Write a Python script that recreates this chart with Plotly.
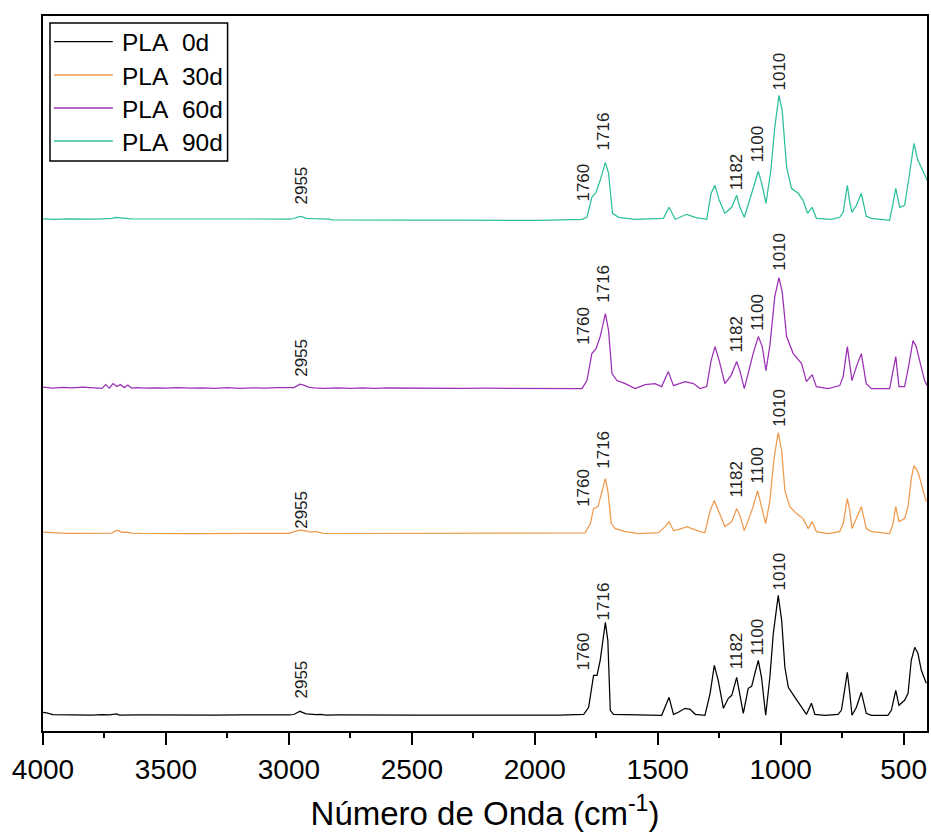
import plotly.graph_objects as go

# ---------------- data ----------------
series_names = ["PLA 0d", "PLA 30d", "PLA 60d", "PLA 90d"]
series_colors = ["#000000", "#EE9A4D", "#9B2FB5", "#2CBF9C"]
offsets = [15.7, 197.4, 342.4, 510.7]   # vertical stacking offsets (a.u.)

wn_0d = [4000, 3985, 3960, 3900, 3850, 3800, 3760, 3745, 3730, 3700, 3690, 3600, 3500, 3400, 3300,
         3200, 3100, 3000, 2980, 2965, 2955, 2945, 2930, 2915, 2890, 2870, 2850, 2800, 2700, 2600,
         2500, 2400, 2300, 2200, 2100, 2000, 1984, 1900, 1801, 1781, 1761, 1747, 1734, 1713, 1703,
         1693, 1680, 1484, 1470, 1454, 1436, 1416, 1389, 1368, 1348, 1308, 1287, 1270, 1254, 1233,
         1213, 1199, 1179, 1166, 1152, 1132, 1118, 1105, 1091, 1078, 1061, 1044, 1030, 1010, 996,
         983, 969, 942, 915, 895, 875, 861, 821, 767, 753, 740, 729, 719, 710, 692, 672, 652, 631,
         564, 550, 532, 519, 496, 482, 469, 455, 442, 428, 408]
ab_0d = [3, 2.5, 0.6, 0.3, 0.8, 0.2, 0.6, 0.2, 0.5, 1.3, 0.2, 0.5, 0.2, 0.6, 0.1,
         0.5, 0.2, 0.5, 0.8, 2.5, 4, 3, 1.5, 1.2, 0.6, 1.0, 0.3, 0.5, 0.2, 0.5,
         0.2, 0.3, 0.1, 0.1, 0.1, 0.1, 0.1, 0.2, 1, 8, 40, 40, 55, 93, 75,
         5, 1, 0, 8, 18, 1, 3, 7, 6, 1, 0, 22, 50, 35, 7,
         17, 20, 38, 22, 2, 27, 29, 42, 55, 38, 0, 38, 82, 120, 95,
         48, 28, 18, 8, 1, 12, 1, 0, 1, 5, 28, 43, 22, 0, 8, 23, 2, 0,
         0, 5, 25, 10, 15, 22, 55, 68, 62, 45, 32]

wn_30d = [4000, 3950, 3900, 3850, 3760, 3720, 3705, 3695, 3680, 3660, 3640, 3600, 3400, 3200, 3000,
          2985, 2970, 2955, 2940, 2925, 2910, 2895, 2880, 2860, 2800, 2600, 2400, 2200, 2000, 1984,
          1795, 1774, 1761, 1743, 1727, 1713, 1703, 1689, 1673, 1632, 1578, 1497, 1470, 1454, 1436,
          1416, 1382, 1362, 1328, 1308, 1287, 1270, 1254, 1227, 1199, 1179, 1166, 1148, 1125, 1112,
          1094, 1080, 1061, 1044, 1026, 1010, 996, 983, 963, 936, 909, 888, 872, 855, 807, 760,
          746, 729, 719, 710, 692, 672, 652, 631, 557, 543, 532, 519, 496, 482, 469, 458, 442, 428,
          408]
ab_30d = [1.5, 0.5, 0.2, 0.3, 0.2, 0.5, 2.8, 3.2, 1.2, 1.5, 0.5, 0.2, 0.1, 0.1, 0.3,
          1.5, 2.5, 3.5, 3, 2.2, 1.5, 2.2, 1.2, 0.3, 0.1, 0.1, 0.1, 0.1, 0.1, 0,
          0.7, 10, 25, 27, 43, 55, 43, 10, 5, 2, 0, 1, 7, 12, 3,
          4, 7, 5, 2, 1, 23, 33, 23, 7, 12, 25, 18, 3, 18, 27,
          43, 30, 10, 33, 77, 101, 83, 43, 27, 20, 15, 5, 12, 2, 0, 2,
          10, 35, 23, 5, 15, 27, 5, 2, 0, 10, 27, 12, 15, 27, 55, 68, 62, 50,
          32]

wn_60d = [4000, 3960, 3920, 3880, 3840, 3800, 3780, 3760, 3745, 3730, 3715, 3700, 3685, 3670, 3655,
          3640, 3620, 3580, 3540, 3500, 3450, 3400, 3350, 3300, 3250, 3200, 3150, 3100, 3050, 3000,
          2980, 2965, 2955, 2940, 2920, 2900, 2860, 2800, 2750, 2700, 2650, 2600, 2500, 2400, 2300,
          2200, 2100, 2000, 1984, 1808, 1788, 1768, 1751, 1734, 1713, 1700, 1686, 1666, 1632, 1592,
          1551, 1511, 1484, 1457, 1436, 1389, 1355, 1328, 1301, 1283, 1267, 1250, 1227, 1202, 1179,
          1166, 1148, 1125, 1112, 1091, 1075, 1060, 1044, 1024, 1007, 994, 976, 949, 915, 895, 872,
          855, 807, 760, 746, 729, 719, 710, 692, 672, 652, 631, 557, 543, 532, 519, 496, 480, 462,
          449, 435, 415, 404]
ab_60d = [1.5, 0.6, 1.2, 0.8, 1.5, 1.0, 0.4, 0.2, 4, 0.5, 5, 2, 4, 1, 3.5,
          0.5, 1, 0.4, 0.8, 0.5, 1.0, 0.4, 0.8, 0.3, 0.9, 0.3, 0.8, 0.4, 0.9, 0.5,
          1.0, 3, 4.5, 3.5, 1.5, 0.8, 0.3, 0.7, 0.2, 0.8, 0.3, 0.6, 0.3, 0.5, 0.2,
          0.4, 0.2, 0.2, 0, 0, 8, 35, 40, 52, 75, 58, 15, 8, 5, 0,
          4, 5, 2, 17, 3, 7, 5, 0, 2, 28, 42, 28, 5, 13, 27,
          18, 0, 22, 35, 52, 42, 18, 43, 92, 111, 97, 52, 35, 25, 7, 14,
          2, 0, 3, 12, 42, 22, 8, 22, 35, 5, 0, 0, 18, 32, 2, 2, 22, 48,
          42, 28, 8, 3]

wn_90d = [4000, 3950, 3900, 3850, 3800, 3760, 3720, 3705, 3690, 3670, 3640, 3600, 3500, 3400, 3300,
          3200, 3100, 3000, 2980, 2965, 2955, 2945, 2930, 2900, 2860, 2835, 2825, 2700, 2500, 2300,
          2100, 2000, 1984, 1808, 1788, 1768, 1751, 1734, 1713, 1700, 1684, 1659, 1592, 1477, 1454,
          1429, 1382, 1348, 1301, 1283, 1267, 1250, 1227, 1199, 1179, 1166, 1148, 1118, 1091, 1075,
          1060, 1040, 1024, 1007, 994, 976, 956, 929, 909, 891, 872, 855, 794, 760, 746, 729, 719,
          710, 692, 672, 652, 631, 557, 547, 532, 516, 496, 480, 458, 442, 422, 404]
ab_90d = [1.5, 1.0, 1.5, 1.0, 1.2, 1.5, 2.0, 3.0, 2.5, 2.0, 1.5, 1.3, 1.2, 1.0, 1.2,
          1.0, 1.2, 1.3, 1.8, 3.0, 4.0, 3.5, 2.0, 1.6, 1.5, 1.2, 0.4, 0.1, 0.1, 0.1,
          0.1, 0.1, 0, 1, 3, 23, 28, 40, 58, 47, 7, 3, 1, 2, 13,
          1, 6, 3, 1, 27, 35, 20, 7, 13, 25, 13, 3, 27, 49, 35,
          17, 50, 93, 125, 110, 53, 32, 27, 20, 7, 13, 2, 1, 3, 8, 35, 18,
          8, 15, 27, 4, 2, 0, 12, 32, 13, 15, 40, 77, 60, 50, 40]

series_wn = [wn_0d, wn_30d, wn_60d, wn_90d]
series_ab = [ab_0d, ab_30d, ab_60d, ab_90d]

# peak labels: text, label position (cm-1) and label base height above each baseline
peak_labels = ["2955", "1760", "1716", "1182", "1100", "1010"]
peak_label_wn = [2950, 1803, 1722, 1180, 1094, 1006]
label_h_0d = [17, 45, 95, 46, 60, 125]
label_h_30d = [5, 27, 65, 36, 50, 107]
label_h_60d = [12, 44, 86, 36, 58, 118]
label_h_90d = [16, 19, 70, 30, 58, 130]
series_label_h = [label_h_0d, label_h_30d, label_h_60d, label_h_90d]

x_ticks = [4000, 3500, 3000, 2500, 2000, 1500, 1000, 500]
x_title = "Número de Onda (cm<sup>-1</sup>)"

# ---------------- figure ----------------
FONT = "Arial, 'Liberation Sans', sans-serif"
W, H = 931, 840
ML, MR, MT, MB = 43, 2, 16, 109
PW, PH = W - ML - MR, H - MT - MB


def px_x(px):
    return (px - ML) / PW


def px_y(py):
    return (H - MB - py) / PH


fig = go.Figure()
for name, color, off, wn, ab in zip(series_names, series_colors, offsets, series_wn, series_ab):
    fig.add_trace(go.Scatter(
        x=wn, y=[v + off for v in ab], mode="lines", name=name,
        line=dict(color=color, width=1.25), showlegend=False))

for off, hs in zip(offsets, series_label_h):
    for txt, xw, h in zip(peak_labels, peak_label_wn, hs):
        fig.add_annotation(x=xw, y=off + h - 2, text=txt, showarrow=False,
                           textangle=-90, xanchor="center", yanchor="bottom",
                           font=dict(family=FONT, size=17, color="#222222"))

# legend box drawn in the upper-left corner
fig.add_shape(type="rect", xref="paper", yref="paper",
              x0=px_x(50), x1=px_x(228), y0=px_y(161), y1=px_y(23),
              line=dict(color="black", width=1.5), fillcolor="white", layer="above")
legend_rows_px = [41.7, 75, 108, 141]
for name, color, ry in zip(series_names, series_colors, legend_rows_px):
    fig.add_shape(type="line", xref="paper", yref="paper",
                  x0=px_x(54), x1=px_x(113), y0=px_y(ry), y1=px_y(ry),
                  line=dict(color=color, width=1.3), layer="above")
    fig.add_annotation(xref="paper", yref="paper", x=px_x(120), y=px_y(ry + 1),
                       text=name.replace(" ", "\u00a0 "), showarrow=False,
                       xanchor="left", yanchor="middle",
                       font=dict(family=FONT, size=24.5, color="black"))

fig.update_layout(
    width=W, height=H,
    margin=dict(l=ML, r=MR, t=MT, b=MB),
    paper_bgcolor="white", plot_bgcolor="white",
    font=dict(family=FONT, color="black"),
    showlegend=False,
    xaxis=dict(range=[4000, 405], tickvals=x_ticks, ticks="outside", ticklen=12, tickwidth=2,
               tickcolor="black", showline=True, linecolor="black", linewidth=2, mirror=True,
               showgrid=False, zeroline=False,
               tickfont=dict(family=FONT, size=28, color="black"),
               minor=dict(dtick=250, ticks="outside", ticklen=5, tickwidth=2, tickcolor="black",
                          showgrid=False),
               title=dict(text=x_title, font=dict(family=FONT, size=33, color="black"), standoff=18)),
    yaxis=dict(range=[0, 715], showticklabels=False, ticks="", showline=True, linecolor="black",
               linewidth=2, mirror=True, showgrid=False, zeroline=False),
)

fig.write_html("out.html")
